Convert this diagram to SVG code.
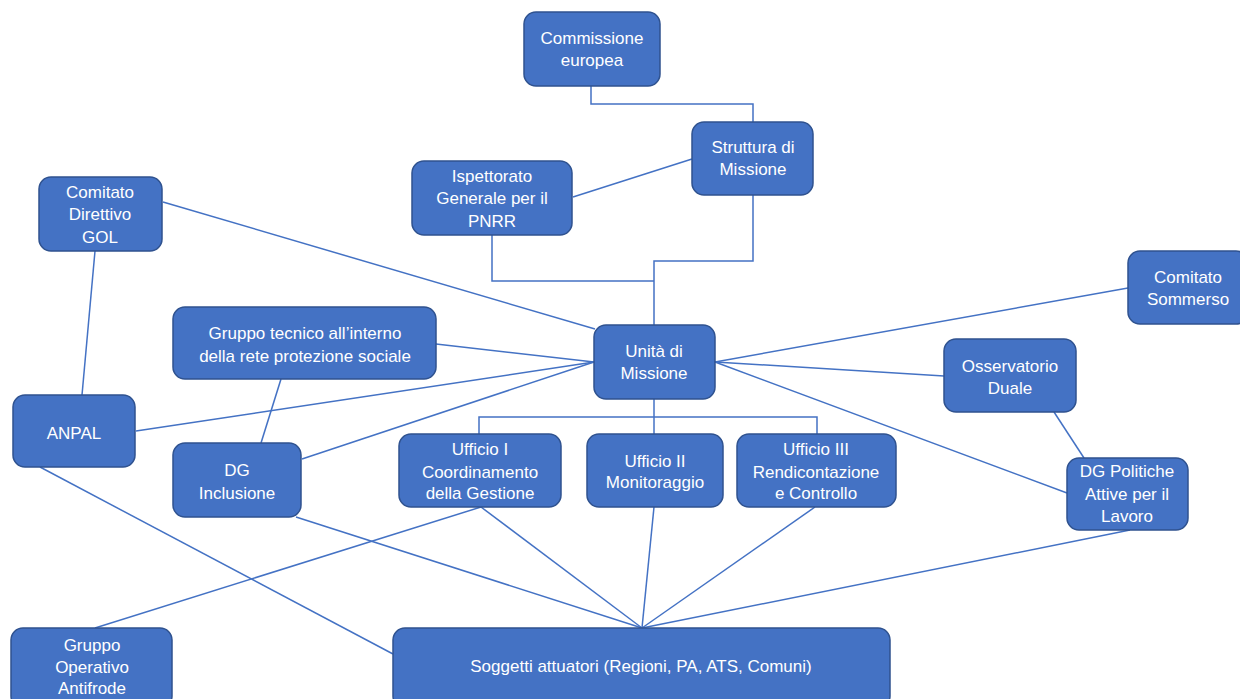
<svg xmlns="http://www.w3.org/2000/svg" width="1240" height="699" viewBox="0 0 1240 699">
<style>
.n{fill:#4472C4;stroke:#2F528F;stroke-width:1.5}
.t{fill:#fff;font-family:"Liberation Sans",Arial,sans-serif;font-size:17px;text-anchor:middle}
.c{fill:none;stroke:#4472C4;stroke-width:1.5}
</style>
<rect width="1240" height="699" fill="#fff"/>
<g id="connectors">
<polyline class="c" points="591,86 591,104 753,104 753,122"/>
<line class="c" x1="573" y1="197" x2="692" y2="159"/>
<polyline class="c" points="753,195 753,261 654,261 654,325"/>
<polyline class="c" points="492,235 492,281 654,281"/>
<line class="c" x1="163" y1="202" x2="595" y2="329"/>
<line class="c" x1="95" y1="251" x2="82" y2="395"/>
<line class="c" x1="281" y1="379" x2="261" y2="443"/>
<line class="c" x1="436" y1="344" x2="594" y2="362"/>
<line class="c" x1="136" y1="431" x2="594" y2="362"/>
<line class="c" x1="302" y1="459" x2="594" y2="362"/>
<line class="c" x1="715" y1="362" x2="1128" y2="288"/>
<line class="c" x1="715" y1="362" x2="944" y2="376"/>
<line class="c" x1="715" y1="362" x2="1067" y2="493"/>
<line class="c" x1="1054" y1="412" x2="1084" y2="458"/>
<polyline class="c" points="479,434 479,417 817,417 817,434"/>
<line class="c" x1="654" y1="399" x2="654" y2="434"/>
<line class="c" x1="296" y1="517" x2="642" y2="628"/>
<line class="c" x1="481" y1="507" x2="642" y2="628"/>
<line class="c" x1="654" y1="507" x2="642" y2="628"/>
<line class="c" x1="815" y1="507" x2="642" y2="628"/>
<line class="c" x1="1130" y1="530" x2="642" y2="628"/>
<line class="c" x1="40" y1="467" x2="393" y2="654"/>
<line class="c" x1="481" y1="507" x2="95" y2="628"/>
</g>
<g id="commissione">
<rect class="n" x="524" y="12" width="136" height="74" rx="12"/>
<text class="t" x="592" y="44">Commissione</text>
<text class="t" x="592" y="66">europea</text>
</g>
<g id="struttura">
<rect class="n" x="692" y="122" width="121" height="73" rx="12"/>
<text class="t" x="753" y="153">Struttura di</text>
<text class="t" x="753" y="175">Missione</text>
</g>
<g id="ispettorato">
<rect class="n" x="412" y="161" width="160" height="74" rx="12"/>
<text class="t" x="492" y="182">Ispettorato</text>
<text class="t" x="492" y="204">Generale per il</text>
<text class="t" x="492" y="227">PNRR</text>
</g>
<g id="gol">
<rect class="n" x="39" y="177" width="123" height="74" rx="12"/>
<text class="t" x="100" y="198">Comitato</text>
<text class="t" x="100" y="220">Direttivo</text>
<text class="t" x="100" y="243">GOL</text>
</g>
<g id="gruppotecnico">
<rect class="n" x="173" y="307" width="263" height="72" rx="12"/>
<text class="t" x="305" y="339">Gruppo tecnico all’interno</text>
<text class="t" x="305" y="362">della rete protezione sociale</text>
</g>
<g id="anpal">
<rect class="n" x="13" y="395" width="122" height="72" rx="12"/>
<text class="t" x="74" y="439">ANPAL</text>
</g>
<g id="dginclusione">
<rect class="n" x="173" y="443" width="128" height="74" rx="12"/>
<text class="t" x="237" y="476">DG</text>
<text class="t" x="237" y="499">Inclusione</text>
</g>
<g id="unita">
<rect class="n" x="594" y="325" width="121" height="74" rx="12"/>
<text class="t" x="654" y="357">Unità di</text>
<text class="t" x="654" y="379">Missione</text>
</g>
<g id="ufficio1">
<rect class="n" x="399" y="434" width="162" height="73" rx="12"/>
<text class="t" x="480" y="455">Ufficio I</text>
<text class="t" x="480" y="478">Coordinamento</text>
<text class="t" x="480" y="499">della Gestione</text>
</g>
<g id="ufficio2">
<rect class="n" x="587" y="434" width="136" height="73" rx="12"/>
<text class="t" x="655" y="467">Ufficio II</text>
<text class="t" x="655" y="488">Monitoraggio</text>
</g>
<g id="ufficio3">
<rect class="n" x="737" y="434" width="159" height="73" rx="12"/>
<text class="t" x="816" y="455">Ufficio III</text>
<text class="t" x="816" y="478">Rendicontazione</text>
<text class="t" x="816" y="499">e Controllo</text>
</g>
<g id="sommerso">
<rect class="n" x="1128" y="251" width="120" height="73" rx="12"/>
<text class="t" x="1188" y="283">Comitato</text>
<text class="t" x="1188" y="305">Sommerso</text>
</g>
<g id="osservatorio">
<rect class="n" x="944" y="339" width="132" height="73" rx="12"/>
<text class="t" x="1010" y="372">Osservatorio</text>
<text class="t" x="1010" y="394">Duale</text>
</g>
<g id="dgpolitiche">
<rect class="n" x="1067" y="458" width="121" height="72" rx="12"/>
<text class="t" x="1127" y="477">DG Politiche</text>
<text class="t" x="1127" y="500">Attive per il</text>
<text class="t" x="1127" y="522">Lavoro</text>
</g>
<g id="antifrode">
<rect class="n" x="11" y="628" width="161" height="80" rx="12"/>
<text class="t" x="92" y="651">Gruppo</text>
<text class="t" x="92" y="673">Operativo</text>
<text class="t" x="92" y="694">Antifrode</text>
</g>
<g id="soggetti">
<rect class="n" x="393" y="628" width="497" height="80" rx="12"/>
<text class="t" x="641" y="672">Soggetti attuatori (Regioni, PA, ATS, Comuni)</text>
</g>
</svg>
